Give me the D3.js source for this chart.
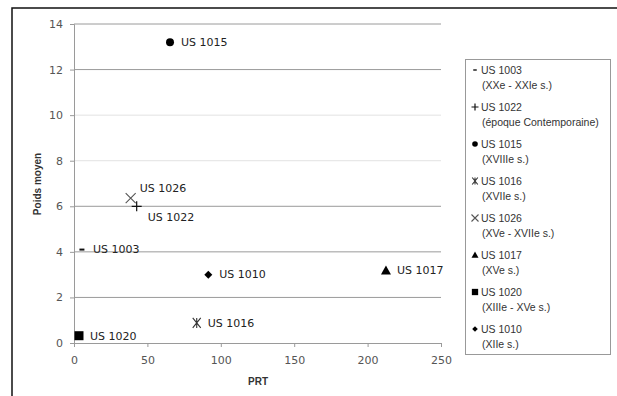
<!DOCTYPE html>
<html><head><meta charset="utf-8">
<script src="https://cdn.jsdelivr.net/npm/d3@7"></script>
<style>body{margin:0;background:#fff}svg{display:block}</style>
</head><body>
<script>
const names = ["US 1003","US 1022","US 1015","US 1016","US 1026","US 1017","US 1020","US 1010"];
const periods = ["(XXe - XXIe s.)","(époque Contemporaine)","(XVIIIe s.)","(XVIIe s.)","(XVe - XVIIe s.)","(XVe s.)","(XIIIe - XVe s.)","(XIIe s.)"];
const prt = [5.4, 42.7, 65.4, 83.6, 38.6, 212.5, 3.4, 91.5];
const poids = [4.1, 6.0, 13.2, 0.88, 6.36, 3.18, 0.32, 3.0];
const markers = ["dash","plus","circle","star","cross","triangle","square","diamond"];
const xTicks = [0,50,100,150,200,250];
const yTicks = [0,2,4,6,8,10,12,14];

const W=617,H=396;
const svg=d3.select("body").append("svg").attr("width",W).attr("height",H);
svg.append("rect").attr("width",W).attr("height",H).attr("fill","#fff");
svg.append("rect").attr("x",12).attr("y",8).attr("width",W).attr("height",H).attr("fill","none").attr("stroke","#111").attr("stroke-width",1.5);

const x=d3.scaleLinear().domain([0,250]).range([74,441]);
const y=d3.scaleLinear().domain([0,14]).range([343,24]);

// gridlines
svg.append("g").selectAll("line").data(yTicks.filter(d=>d>0)).join("line")
  .attr("x1",74).attr("x2",441).attr("y1",d=>y(d)).attr("y2",d=>y(d))
  .attr("stroke",d=>(d===8||d===10)?"#e2e2e2":"#9a9a9a").attr("stroke-width",1);

// y axis
const ya=svg.append("g").attr("transform","translate(74,0)").call(d3.axisLeft(y).tickValues(yTicks).tickSize(4).tickPadding(7));
ya.select(".domain").attr("stroke","#9a9a9a");
ya.selectAll(".tick line").attr("stroke","#9a9a9a");
ya.selectAll("text").attr("font-family","DejaVu Sans").attr("font-size",11).attr("fill","#555");
// x axis
const xa=svg.append("g").attr("transform","translate(0,343)").call(d3.axisBottom(x).tickValues(xTicks).tickSize(4).tickPadding(9));
xa.select(".domain").attr("stroke","#9a9a9a");
xa.selectAll(".tick line").attr("stroke","#9a9a9a");
xa.selectAll("text").attr("font-family","DejaVu Sans").attr("font-size",11).attr("fill","#555");

svg.append("text").attr("x",258).attr("y",385).attr("text-anchor","middle")
  .attr("font-family","Liberation Sans").attr("font-weight","bold").attr("font-size",10).attr("fill","#333").text("PRT");
svg.append("text").attr("transform","translate(41,184) rotate(-90)").attr("text-anchor","middle")
  .attr("font-family","Liberation Sans").attr("font-weight","bold").attr("font-size",10).attr("fill","#333").text("Poids moyen");

function drawMarker(g,type,s){
  const k=s;
  if(type==="dash") g.append("line").attr("x1",-2.5*k).attr("x2",2.5*k).attr("stroke","#111").attr("stroke-width",2*k);
  else if(type==="plus"){ g.append("path").attr("d",`M${-5*k},0H${5*k}M0,${-5*k}V${5*k}`).attr("stroke","#111").attr("stroke-width",1.2);}
  else if(type==="circle") g.append("circle").attr("r",4*k).attr("fill","#000");
  else if(type==="star"){ g.append("path").attr("d",`M${-4*k},${-5*k}L${4*k},${5*k}M${4*k},${-5*k}L${-4*k},${5*k}M0,${-5*k}V${5*k}`).attr("stroke","#333").attr("stroke-width",1.1);}
  else if(type==="cross"){ g.append("path").attr("d",`M${-5*k},${-5*k}L${5*k},${5*k}M${5*k},${-5*k}L${-5*k},${5*k}`).attr("stroke","#555").attr("stroke-width",1.1);}
  else if(type==="triangle") g.append("path").attr("d",`M0,${-5*k}L${5*k},${4*k}L${-5*k},${4*k}Z`).attr("fill","#000");
  else if(type==="square") g.append("rect").attr("x",-4.5*k).attr("y",-4.5*k).attr("width",9*k).attr("height",9*k).attr("fill","#000");
  else if(type==="diamond") g.append("path").attr("d",`M0,${-4*k}L${4*k},0L0,${4*k}L${-4*k},0Z`).attr("fill","#000");
}

// points
const labelOff = {"US 1026":[9,-10],"US 1022":[11,11]};
names.forEach((n,i)=>{
  const g=svg.append("g").attr("transform",`translate(${x(prt[i])},${y(poids[i])})`);
  drawMarker(g,markers[i],1);
  const off=labelOff[n]||[11,0];
  svg.append("text").attr("x",x(prt[i])+off[0]).attr("y",y(poids[i])+off[1]).attr("dy","0.35em")
    .attr("font-family","DejaVu Sans").attr("font-size",11).attr("fill","#222").text(n);
});

// legend
svg.append("rect").attr("x",465.5).attr("y",59.5).attr("width",145).attr("height",295).attr("fill","#fff").attr("stroke","#999");
names.forEach((n,i)=>{
  const cy=70+i*37;
  const g=svg.append("g").attr("transform",`translate(475,${cy})`);
  drawMarker(g,markers[i],0.7);
  svg.append("text").attr("x",481).attr("y",cy).attr("dy","0.35em").attr("font-family","Liberation Sans").attr("font-size",10.5).attr("fill","#333").text(n);
  svg.append("text").attr("x",482).attr("y",cy+15).attr("dy","0.35em").attr("font-family","Liberation Sans").attr("font-size",10.5).attr("fill","#333").text(periods[i]);
});
</script>
</body></html>
